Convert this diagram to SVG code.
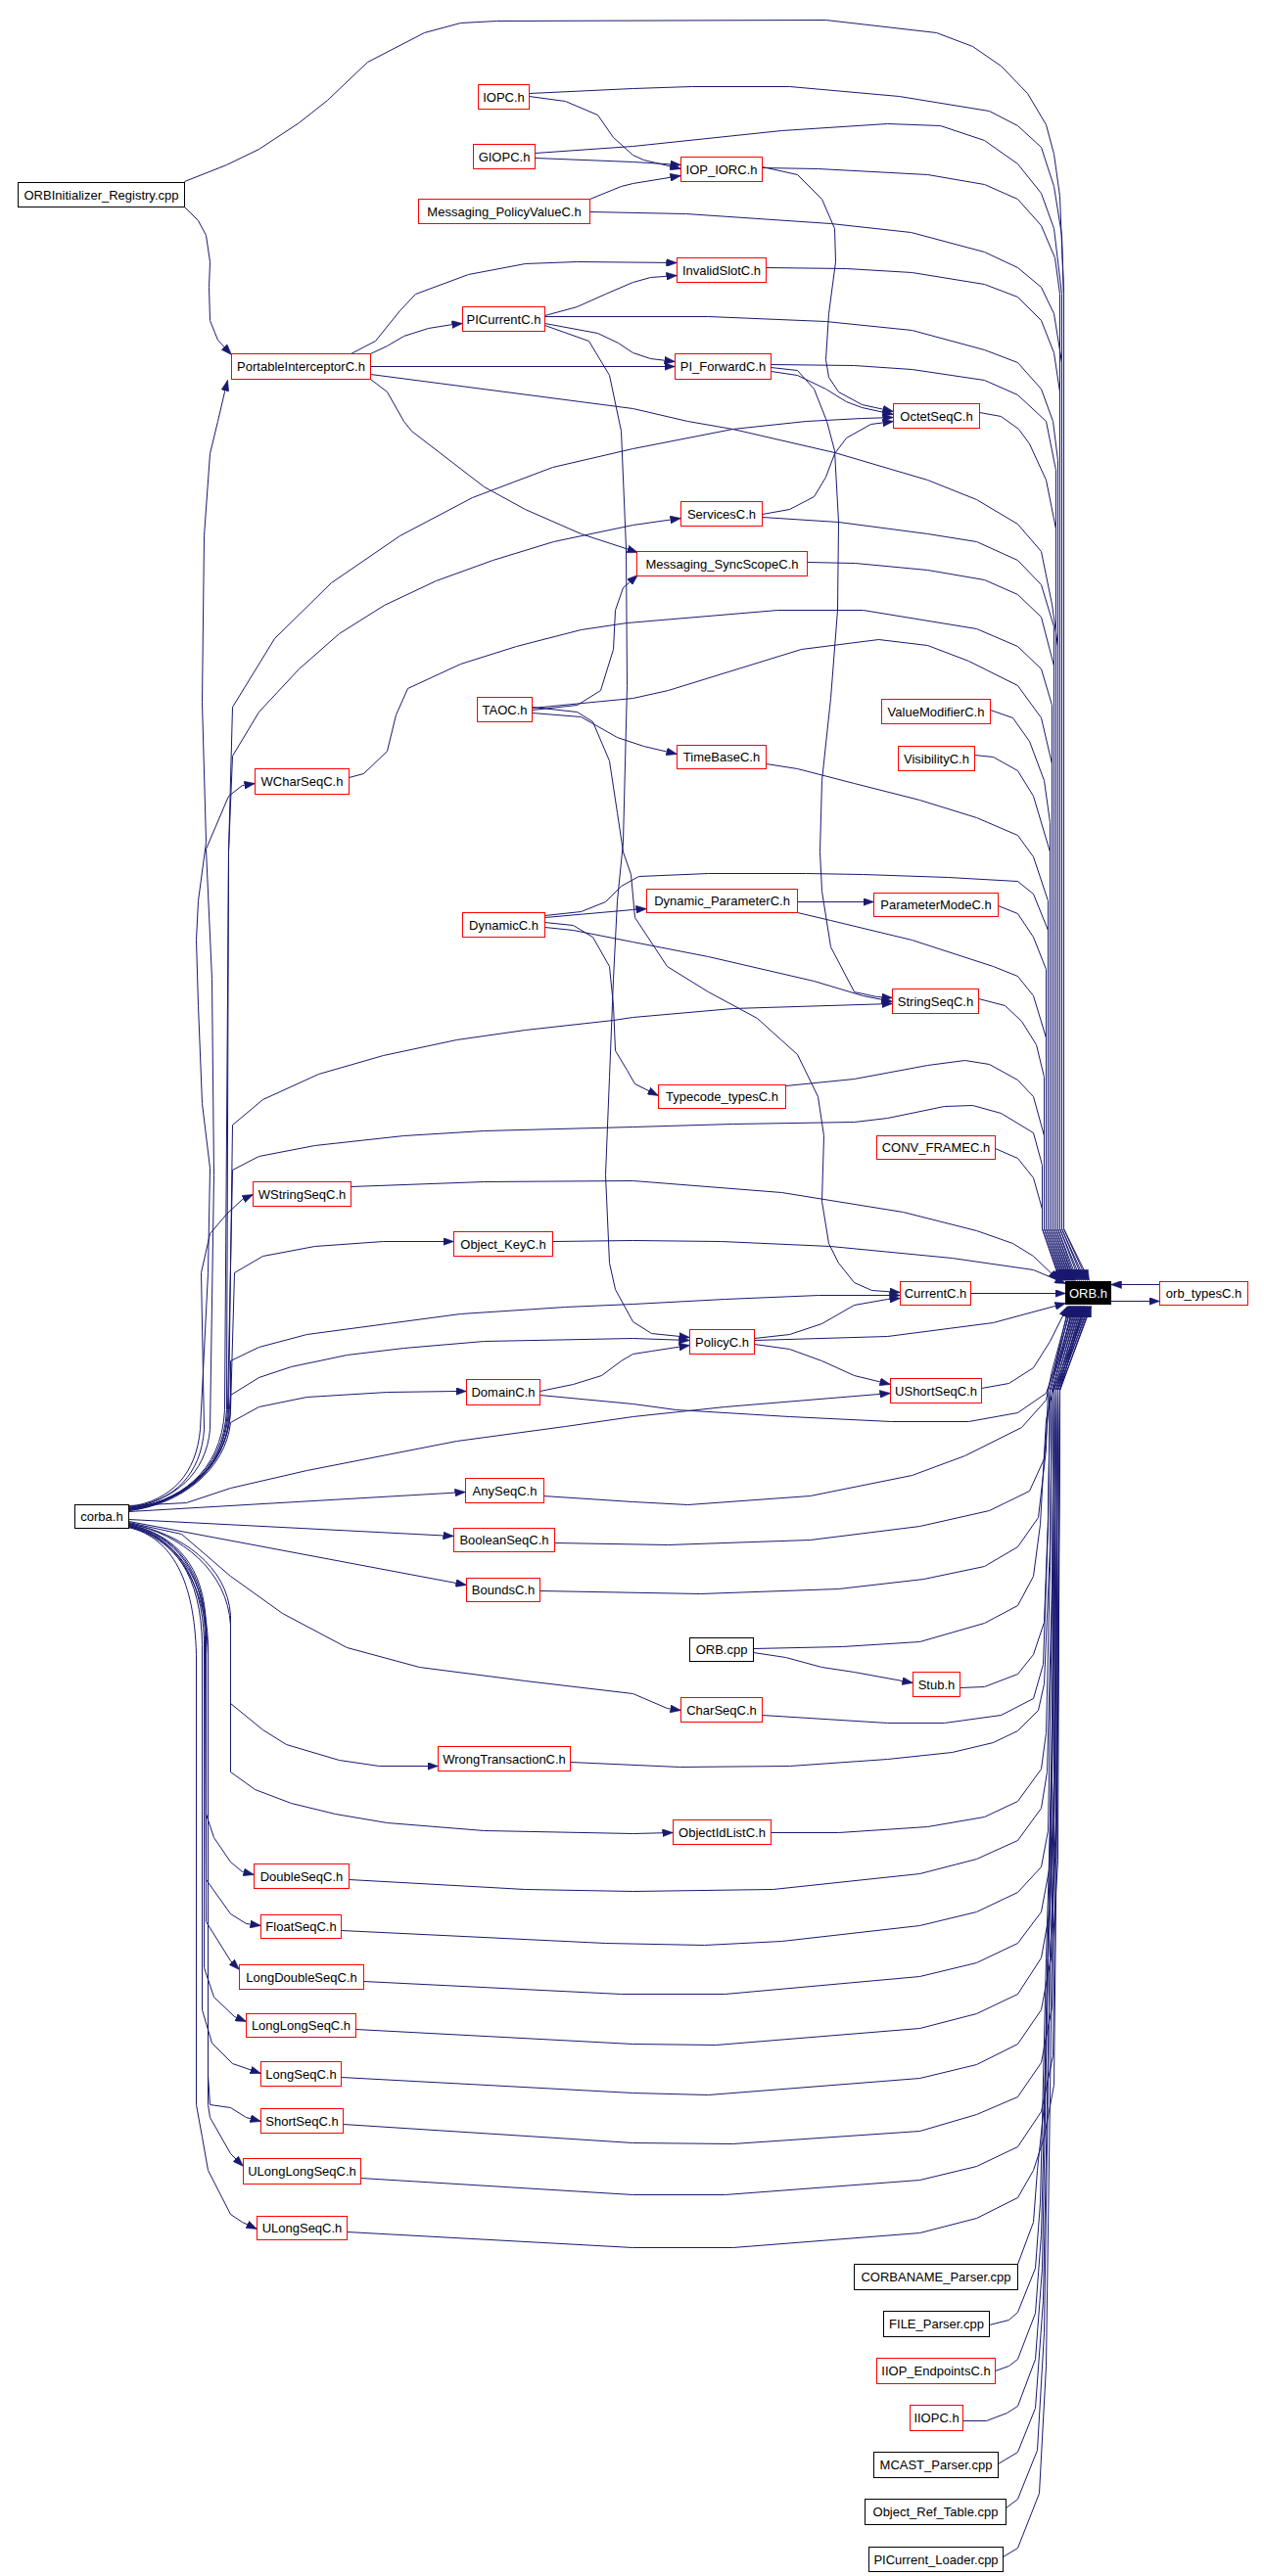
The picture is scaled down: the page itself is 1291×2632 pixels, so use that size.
<svg xmlns="http://www.w3.org/2000/svg" width="1291" height="2632" viewBox="0 0 1291 2632">
<style>
.e{fill:none;stroke:#191970;stroke-width:1;marker-end:url(#a)}
.r{fill:#fff;stroke:#ff0000;stroke-width:1}
.k{fill:#fff;stroke:#000;stroke-width:1}
.b{fill:#000;stroke:#000;stroke-width:1}
.t{font-family:"Liberation Sans",Arial,sans-serif;font-size:13px;text-anchor:middle;fill:#000}
.w{fill:#fff}
</style>
<defs>
<marker id="a" markerWidth="11" markerHeight="8" refX="11" refY="4" orient="auto" markerUnits="userSpaceOnUse"><path d="M0,0 L11,4 L0,8 z" fill="#191970" stroke="#191970" stroke-width="0.5"/></marker>
</defs>
<rect x="0" y="0" width="1291" height="2632" fill="#fff"/>
<g id="edges" transform="translate(0.5,0.5)">
<path class="e" d="M188,185 L231,168 L264,152 L305,125 L334,102 L375,63 L433,33 L470,23 L507,21 L843,20 L956,33 L993,47 L1022,67 L1049,95 L1068,127 L1076,157 L1082,200 L1086,300 L1086,1255 L1112,1308"/>
<path class="e" d="M540,95 L646,90 L706,88 L806,88 L918,98 L1010,113 L1039,128 L1063,150 L1076,190 L1084,240 L1086,300 L1086,1255 L1110,1308"/>
<path class="e" d="M546,156 L646,149 L798,133 L906,126 L960,128 L1005,143 L1039,167 L1063,197 L1076,233 L1084,300 L1084,1255 L1108,1308"/>
<path class="e" d="M602,216 L700,218 L848,228 L930,237 L1005,257 L1039,273 L1063,293 L1076,320 L1084,370 L1084,1255 L1106,1308"/>
<path class="e" d="M778,171 L835,172 L947,178 L1005,188 L1039,203 L1063,230 L1077,263 L1082,300 L1082,1255 L1104,1308"/>
<path class="e" d="M782,273 L864,274 L931,278 L1005,290 L1039,303 L1063,327 L1076,360 L1082,400 L1082,1255 L1102,1308"/>
<path class="e" d="M556,323 L723,323 L843,328 L931,337 L1005,357 L1039,370 L1063,397 L1075,430 L1080,470 L1080,1255 L1100,1308"/>
<path class="e" d="M378,382 L646,417 L702,430 L748,438 L852,462 L947,490 L997,510 L1039,535 L1063,563 L1074,617 L1080,660 L1080,1255 L1098,1308"/>
<path class="e" d="M787,372 L872,373 L931,377 L1005,388 L1039,403 L1068,430 L1078,480 L1078,1255 L1097,1308"/>
<path class="e" d="M1000,421 L1022,425 L1040,438 L1051,453 L1068,490 L1078,540 L1078,1255 L1096,1308"/>
<path class="e" d="M778,528 L856,533 L947,545 L997,553 L1039,572 L1063,597 L1076,640 L1076,1255 L1095,1308"/>
<path class="e" d="M824,574 L873,575 L947,582 L1005,592 L1039,607 L1063,630 L1076,680 L1076,1255 L1094,1308"/>
<path class="e" d="M356,794 L371,790 L395,767 L404,730 L416,703 L470,678 L527,660 L593,643 L640,636 L794,623 L881,623 L997,642 L1039,660 L1063,683 L1074,720 L1074,1255 L1093,1308"/>
<path class="e" d="M543,723 L646,713 L682,705 L818,663 L897,653 L947,659 L989,675 L1039,700 L1063,733 L1074,780 L1074,1255 L1092,1308"/>
<path class="e" d="M1011,725 L1034,733 L1051,757 L1066,797 L1072,840 L1072,1255 L1091,1308"/>
<path class="e" d="M995,771 L1014,773 L1039,787 L1055,813 L1072,870 L1072,1255 L1090,1308"/>
<path class="e" d="M782,780 L814,785 L872,800 L939,817 L997,835 L1039,853 L1055,875 L1070,920 L1070,1255 L1089,1308"/>
<path class="e" d="M556,935 L593,931 L618,921 L634,905 L652,895 L723,892 L823,892 L881,893 L968,896 L1039,900 L1055,913 L1070,950 L1070,1255 L1088,1308"/>
<path class="e" d="M1019,925 L1039,933 L1055,957 L1068,990 L1068,1255 L1087,1308"/>
<path class="e" d="M814,932 L848,940 L931,960 L1014,987 L1039,997 L1055,1017 L1068,1060 L1068,1255 L1086,1308"/>
<path class="e" d="M999,1020 L1026,1027 L1043,1043 L1058,1067 L1066,1100 L1066,1255 L1085,1308"/>
<path class="e" d="M802,1109 L872,1102 L947,1088 L985,1083 L1010,1087 L1039,1103 L1055,1120 L1066,1160 L1066,1255 L1084,1308"/>
<path class="e" d="M131,1541 C180,1535 228,1510 232,1440 L237,1195 L264,1181 L321,1170 L412,1160 L494,1155 L646,1151 L748,1148 L872,1146 L906,1142 L964,1130 L993,1129 L1022,1137 L1055,1157 L1064,1190 L1064,1255 L1083,1308"/>
<path class="e" d="M1016,1173 L1039,1183 L1055,1203 L1064,1235 L1064,1255 L1082,1308"/>
<path class="e" d="M358,1212 L494,1207 L646,1206 L798,1218 L922,1238 L997,1257 L1034,1270 L1055,1283 L1081,1308"/>
<path class="e" d="M564,1268 L646,1267 L736,1268 L848,1273 L972,1285 L1055,1297 L1088,1311"/>
<path class="e" d="M991,1321 L1088,1321"/>
<path class="e" d="M770,1369 L906,1365 L1014,1351 L1088,1331"/>
<path class="e" d="M1184,1312 L1134,1312"/>
<path class="e" d="M1134,1329 L1184,1329"/>
<path class="e" d="M1002,1418 L1030,1413 L1055,1397 L1072,1370 L1090,1334"/>
<path class="e" d="M551,1425 L646,1434 L690,1440 L806,1447 L910,1452 L989,1452 L1039,1443 L1068,1423 L1076,1400 L1091,1334"/>
<path class="e" d="M554,1528 L646,1534 L702,1537 L827,1528 L931,1507 L985,1487 L1043,1458 L1068,1430 L1074,1400 L1092,1334"/>
<path class="e" d="M566,1576 L682,1578 L827,1573 L939,1559 L1010,1543 L1051,1523 L1066,1490 L1072,1420 L1093,1334"/>
<path class="e" d="M551,1625 L715,1628 L856,1623 L943,1613 L1005,1600 L1039,1580 L1060,1550 L1068,1480 L1070,1420 L1094,1334"/>
<path class="e" d="M769,1684 L860,1682 L939,1677 L1005,1658 L1039,1640 L1055,1610 L1062,1557 L1068,1450 L1095,1334"/>
<path class="e" d="M980,1724 L1005,1723 L1039,1710 L1055,1690 L1066,1657 L1070,1550 L1072,1420 L1096,1334"/>
<path class="e" d="M778,1752 L906,1760 L964,1760 L1022,1752 L1055,1735 L1065,1700 L1070,1560 L1072,1420 L1097,1334"/>
<path class="e" d="M582,1800 L694,1805 L806,1804 L906,1797 L972,1790 L1014,1780 L1039,1768 L1060,1747 L1066,1720 L1072,1580 L1074,1420 L1098,1334"/>
<path class="e" d="M787,1872 L856,1872 L947,1866 L1005,1856 L1039,1840 L1063,1807 L1068,1770 L1072,1600 L1074,1420 L1099,1334"/>
<path class="e" d="M356,1920 L536,1930 L646,1932 L789,1930 L939,1914 L997,1899 L1039,1880 L1063,1847 L1069,1810 L1074,1620 L1076,1420 L1100,1334"/>
<path class="e" d="M348,1972 L618,1985 L719,1987 L798,1983 L939,1967 L997,1953 L1039,1933 L1063,1907 L1070,1870 L1074,1640 L1076,1420 L1101,1334"/>
<path class="e" d="M371,2024 L634,2037 L740,2037 L939,2019 L997,2005 L1039,1985 L1063,1953 L1071,1910 L1076,1660 L1078,1420 L1102,1334"/>
<path class="e" d="M363,2073 L646,2088 L731,2089 L939,2072 L997,2057 L1039,2037 L1063,2000 L1072,1950 L1076,1680 L1078,1420 L1103,1334"/>
<path class="e" d="M348,2122 L646,2138 L723,2140 L939,2123 L997,2109 L1039,2088 L1063,2053 L1073,2000 L1078,1700 L1080,1420 L1104,1334"/>
<path class="e" d="M350,2170 L646,2189 L748,2190 L939,2177 L997,2160 L1039,2142 L1063,2107 L1074,2050 L1078,1720 L1080,1420 L1105,1334"/>
<path class="e" d="M368,2225 L646,2242 L740,2242 L939,2227 L997,2213 L1039,2193 L1063,2157 L1075,2100 L1080,1740 L1082,1420 L1106,1334"/>
<path class="e" d="M354,2280 L646,2296 L748,2296 L939,2281 L997,2266 L1039,2245 L1055,2217 L1066,2183 L1076,2130 L1080,1760 L1082,1420 L1107,1334"/>
<path class="e" d="M1039,2313 L1055,2270 L1059,2217 L1066,2150 L1074,1800 L1076,1420 L1108,1334"/>
<path class="e" d="M1010,2375 L1030,2370 L1039,2362 L1057,2317 L1062,2250 L1068,2000 L1074,1800 L1078,1420 L1109,1334"/>
<path class="e" d="M1016,2422 L1030,2417 L1039,2410 L1057,2363 L1063,2283 L1070,2000 L1076,1820 L1078,1420 L1110,1334"/>
<path class="e" d="M983,2473 L1007,2473 L1028,2465 L1039,2458 L1057,2410 L1064,2317 L1070,2000 L1076,1840 L1080,1420 L1111,1334"/>
<path class="e" d="M1019,2517 L1039,2505 L1057,2460 L1065,2350 L1072,2000 L1078,1860 L1080,1420 L1112,1334"/>
<path class="e" d="M1027,2562 L1039,2553 L1059,2503 L1066,2383 L1072,2000 L1078,1880 L1082,1420 L1113,1334"/>
<path class="e" d="M1024,2612 L1039,2603 L1061,2547 L1068,2417 L1074,2000 L1080,1900 L1082,1420 L1114,1334"/>
<path class="e" d="M188,211 L202,225 L210,240 L214,267 L213,293 L214,327 L222,347 L236,362"/>
<path class="e" d="M540,98 L577,103 L610,117 L626,140 L646,158 L657,163 L695,172"/>
<path class="e" d="M546,161 L646,165 L695,168"/>
<path class="e" d="M602,203 L634,190 L646,187 L695,179"/>
<path class="e" d="M778,170 L814,178 L839,203 L852,233 L853,267 L846,320 L843,367 L846,385 L856,400 L880,413 L912,420"/>
<path class="e" d="M378,361 L395,353 L412,343 L437,335 L462,331 L472,330"/>
<path class="e" d="M358,361 L383,348 L408,317 L424,300 L478,280 L536,269 L589,267 L691,268"/>
<path class="e" d="M556,322 L589,313 L618,300 L646,288 L664,283 L691,281"/>
<path class="e" d="M378,374 L689,374"/>
<path class="e" d="M556,330 L610,340 L631,350 L646,360 L664,366 L689,369"/>
<path class="e" d="M787,379 L814,383 L843,397 L864,410 L880,416 L912,423"/>
<path class="e" d="M787,375 L814,378 L831,397 L844,430 L852,460 L856,533 L855,623 L848,713 L839,797 L837,870 L839,910 L848,967 L872,1013 L895,1018 L911,1019"/>
<path class="e" d="M378,387 L395,400 L412,430 L420,440 L494,497 L536,520 L593,545 L651,564"/>
<path class="e" d="M543,725 L589,720 L613,705 L626,663 L628,623 L636,600 L651,587"/>
<path class="e" d="M543,728 L593,732 L630,753 L657,762 L691,770"/>
<path class="e" d="M543,722 L589,727 L605,737 L622,777 L630,830 L636,870 L644,893 L648,937 L681,987 L723,1013 L773,1040 L814,1077 L835,1120 L841,1160 L839,1227 L846,1270 L856,1290 L872,1310 L890,1318 L919,1320"/>
<path class="e" d="M556,332 L601,348 L622,383 L634,440 L639,560 L640,700 L636,860 L630,920 L626,1000 L622,1100 L618,1200 L622,1290 L628,1317 L646,1350 L665,1362 L704,1366"/>
<path class="e" d="M556,937 L646,929 L660,928"/>
<path class="e" d="M556,947 L585,950 L646,962 L723,977 L831,1002 L881,1017 L911,1023"/>
<path class="e" d="M556,942 L585,945 L605,957 L622,987 L626,1027 L628,1073 L640,1093 L648,1107 L672,1119"/>
<path class="e" d="M814,921 L892,921"/>
<path class="e" d="M778,525 L806,520 L831,507 L843,487 L852,463 L864,447 L889,433 L912,430"/>
<path class="e" d="M551,1421 L585,1414 L614,1405 L634,1390 L646,1383 L665,1380 L704,1374"/>
<path class="e" d="M770,1367 L806,1363 L839,1352 L872,1333 L906,1327 L919,1326"/>
<path class="e" d="M770,1373 L806,1378 L839,1390 L872,1405 L909,1414"/>
<path class="e" d="M769,1688 L802,1693 L839,1703 L872,1708 L932,1719"/>
<path class="e" d="M131,1539 C175,1533 200,1505 204,1460 L212,1300 L214,1193 L206,1127 L202,1027 L200,960 L202,920 L210,860 L206,717 L208,547 L214,463 L222,430 L229,400 L232,388"/>
<path class="e" d="M131,1540 C178,1534 205,1505 208,1460 L205,1300 L214,1260 L231,1240 L247,1225 L258,1220"/>
<path class="e" d="M131,1540 C178,1533 210,1505 214,1460 L218,1200 L216,1000 L210,867 L233,813 L247,802 L260,800"/>
<path class="e" d="M131,1541 C180,1535 226,1505 229,1440 L233,870 L237,722 L280,652 L338,595 L408,547 L482,508 L564,477 L646,458 L748,438 L823,430 L880,427 L912,426"/>
<path class="e" d="M131,1541 C180,1535 228,1505 231,1440 L233,870 L237,772 L264,727 L305,683 L346,647 L392,618 L445,593 L503,572 L565,553 L646,536 L695,529"/>
<path class="e" d="M131,1541 C180,1535 230,1505 233,1440 L237,1149 L268,1123 L325,1097 L391,1078 L466,1062 L536,1052 L626,1042 L646,1039 L748,1030 L911,1025"/>
<path class="e" d="M131,1542 C180,1536 232,1505 235,1440 L239,1300 L268,1283 L321,1273 L391,1268 L453,1268 L463,1268"/>
<path class="e" d="M131,1542 C180,1536 233,1500 235,1440 L235,1390 L264,1376 L313,1363 L395,1352 L470,1342 L577,1335 L646,1332 L740,1327 L836,1323 L919,1323"/>
<path class="e" d="M131,1543 C180,1537 230,1500 233,1450 L235,1425 L264,1407 L297,1396 L354,1384 L412,1377 L494,1370 L646,1367 L704,1369"/>
<path class="e" d="M131,1543 C185,1537 230,1500 235,1453 L264,1437 L313,1427 L395,1422 L466,1421 L476,1421"/>
<path class="e" d="M131,1538 L190,1535 L235,1520 L313,1502 L466,1472 L577,1457 L646,1447 L740,1437 L909,1423"/>
<path class="e" d="M131,1544 L475,1524"/>
<path class="e" d="M131,1552 L463,1569"/>
<path class="e" d="M131,1554 L476,1619"/>
<path class="e" d="M131,1555 L185,1567 L235,1610 L288,1648 L354,1683 L428,1703 L536,1717 L646,1730 L681,1745 L695,1747"/>
<path class="e" d="M131,1556 C185,1566 232,1600 235,1650 L235,1740 L268,1767 L292,1782 L346,1798 L387,1804 L447,1804"/>
<path class="e" d="M131,1556 C185,1567 232,1605 235,1660 L235,1810 L260,1828 L297,1842 L342,1853 L395,1862 L494,1870 L646,1873 L687,1872"/>
<path class="e" d="M131,1557 C180,1568 208,1600 210,1660 L210,1853 L218,1877 L235,1902 L247,1912 L259,1915"/>
<path class="e" d="M131,1557 C180,1568 208,1605 210,1665 L210,1920 L235,1955 L251,1965 L266,1967"/>
<path class="e" d="M131,1558 C180,1569 207,1605 209,1670 L210,1963 L235,2003 L244,2012"/>
<path class="e" d="M131,1558 C178,1569 206,1610 208,1675 L208,2010 L218,2040 L239,2060 L251,2065"/>
<path class="e" d="M131,1559 C178,1570 205,1610 206,1680 L206,2053 L216,2087 L237,2108 L266,2118"/>
<path class="e" d="M131,1559 C178,1570 210,1610 212,1680 L212,2120 L214,2150 L235,2153 L251,2163 L266,2167"/>
<path class="e" d="M131,1560 C178,1571 210,1615 212,1690 L212,2150 L214,2163 L235,2200 L248,2213"/>
<path class="e" d="M131,1560 C176,1571 198,1615 200,1690 L200,2150 L206,2183 L212,2217 L235,2262 L247,2270 L262,2277"/>
</g>
<g id="n_ORBInitializer_Registry_cpp"><rect class="k" x="18.5" y="186.5" width="170" height="25"/><text class="t" x="103.5" y="203.5">ORBInitializer_Registry.cpp</text></g>
<g id="n_IOPC_h"><rect class="r" x="488.5" y="86.5" width="52" height="25"/><text class="t" x="514.5" y="103.5">IOPC.h</text></g>
<g id="n_GIOPC_h"><rect class="r" x="483.5" y="147.5" width="63" height="25"/><text class="t" x="515" y="164.5">GIOPC.h</text></g>
<g id="n_Messaging_PolicyValueC_h"><rect class="r" x="427.5" y="203.5" width="175" height="25"/><text class="t" x="515" y="220.5">Messaging_PolicyValueC.h</text></g>
<g id="n_PICurrentC_h"><rect class="r" x="472.5" y="313.5" width="84" height="25"/><text class="t" x="514.5" y="330.5">PICurrentC.h</text></g>
<g id="n_PortableInterceptorC_h"><rect class="r" x="236.5" y="361.5" width="142" height="26"/><text class="t" x="307.5" y="379">PortableInterceptorC.h</text></g>
<g id="n_IOP_IORC_h"><rect class="r" x="695.5" y="160.5" width="83" height="25"/><text class="t" x="737" y="177.5">IOP_IORC.h</text></g>
<g id="n_InvalidSlotC_h"><rect class="r" x="691.5" y="263.5" width="91" height="25"/><text class="t" x="737" y="280.5">InvalidSlotC.h</text></g>
<g id="n_PI_ForwardC_h"><rect class="r" x="689.5" y="361.5" width="98" height="26"/><text class="t" x="738.5" y="379">PI_ForwardC.h</text></g>
<g id="n_OctetSeqC_h"><rect class="r" x="912.5" y="412.5" width="88" height="25"/><text class="t" x="956.5" y="429.5">OctetSeqC.h</text></g>
<g id="n_ServicesC_h"><rect class="r" x="695.5" y="512.5" width="83" height="25"/><text class="t" x="737" y="529.5">ServicesC.h</text></g>
<g id="n_Messaging_SyncScopeC_h"><rect class="r" x="650.5" y="563.5" width="174" height="25"/><text class="t" x="737.5" y="580.5">Messaging_SyncScopeC.h</text></g>
<g id="n_TAOC_h"><rect class="r" x="487.5" y="712.5" width="56" height="25"/><text class="t" x="515.5" y="729.5">TAOC.h</text></g>
<g id="n_ValueModifierC_h"><rect class="r" x="900.5" y="714.5" width="111" height="25"/><text class="t" x="956" y="731.5">ValueModifierC.h</text></g>
<g id="n_TimeBaseC_h"><rect class="r" x="691.5" y="761.5" width="91" height="24"/><text class="t" x="737" y="778">TimeBaseC.h</text></g>
<g id="n_VisibilityC_h"><rect class="r" x="917.5" y="762.5" width="78" height="25"/><text class="t" x="956.5" y="779.5">VisibilityC.h</text></g>
<g id="n_WCharSeqC_h"><rect class="r" x="260.5" y="785.5" width="96" height="26"/><text class="t" x="308.5" y="803">WCharSeqC.h</text></g>
<g id="n_Dynamic_ParameterC_h"><rect class="r" x="660.5" y="908.5" width="154" height="24"/><text class="t" x="737.5" y="925">Dynamic_ParameterC.h</text></g>
<g id="n_ParameterModeC_h"><rect class="r" x="892.5" y="912.5" width="127" height="24"/><text class="t" x="956" y="929">ParameterModeC.h</text></g>
<g id="n_DynamicC_h"><rect class="r" x="472.5" y="932.5" width="84" height="25"/><text class="t" x="514.5" y="949.5">DynamicC.h</text></g>
<g id="n_StringSeqC_h"><rect class="r" x="911.5" y="1010.5" width="88" height="25"/><text class="t" x="955.5" y="1027.5">StringSeqC.h</text></g>
<g id="n_Typecode_typesC_h"><rect class="r" x="672.5" y="1108.5" width="130" height="24"/><text class="t" x="737.5" y="1125">Typecode_typesC.h</text></g>
<g id="n_CONV_FRAMEC_h"><rect class="r" x="895.5" y="1160.5" width="121" height="24"/><text class="t" x="956" y="1177">CONV_FRAMEC.h</text></g>
<g id="n_WStringSeqC_h"><rect class="r" x="258.5" y="1207.5" width="100" height="25"/><text class="t" x="308.5" y="1224.5">WStringSeqC.h</text></g>
<g id="n_Object_KeyC_h"><rect class="r" x="463.5" y="1258.5" width="101" height="25"/><text class="t" x="514" y="1275.5">Object_KeyC.h</text></g>
<g id="n_CurrentC_h"><rect class="r" x="919.5" y="1309.5" width="72" height="24"/><text class="t" x="955.5" y="1326">CurrentC.h</text></g>
<g id="n_ORB_h"><rect class="b" x="1088.5" y="1309.5" width="46" height="23"/><text class="t w" x="1111.5" y="1325.5">ORB.h</text></g>
<g id="n_orb_typesC_h"><rect class="r" x="1184.5" y="1309.5" width="90" height="24"/><text class="t" x="1229.5" y="1326">orb_typesC.h</text></g>
<g id="n_PolicyC_h"><rect class="r" x="704.5" y="1358.5" width="66" height="25"/><text class="t" x="737.5" y="1375.5">PolicyC.h</text></g>
<g id="n_DomainC_h"><rect class="r" x="476.5" y="1409.5" width="75" height="26"/><text class="t" x="514" y="1427">DomainC.h</text></g>
<g id="n_UShortSeqC_h"><rect class="r" x="909.5" y="1408.5" width="93" height="25"/><text class="t" x="956" y="1425.5">UShortSeqC.h</text></g>
<g id="n_AnySeqC_h"><rect class="r" x="475.5" y="1510.5" width="80" height="25"/><text class="t" x="515.5" y="1527.5">AnySeqC.h</text></g>
<g id="n_corba_h"><rect class="k" x="76.5" y="1537.5" width="55" height="24"/><text class="t" x="104" y="1554">corba.h</text></g>
<g id="n_BooleanSeqC_h"><rect class="r" x="463.5" y="1561.5" width="103" height="24"/><text class="t" x="515" y="1578">BooleanSeqC.h</text></g>
<g id="n_BoundsC_h"><rect class="r" x="476.5" y="1612.5" width="75" height="24"/><text class="t" x="514" y="1629">BoundsC.h</text></g>
<g id="n_ORB_cpp"><rect class="k" x="704.5" y="1673.5" width="65" height="24"/><text class="t" x="737" y="1690">ORB.cpp</text></g>
<g id="n_Stub_h"><rect class="r" x="932.5" y="1708.5" width="48" height="25"/><text class="t" x="956.5" y="1725.5">Stub.h</text></g>
<g id="n_CharSeqC_h"><rect class="r" x="695.5" y="1734.5" width="83" height="25"/><text class="t" x="737" y="1751.5">CharSeqC.h</text></g>
<g id="n_WrongTransactionC_h"><rect class="r" x="447.5" y="1784.5" width="135" height="25"/><text class="t" x="515" y="1801.5">WrongTransactionC.h</text></g>
<g id="n_ObjectIdListC_h"><rect class="r" x="687.5" y="1859.5" width="100" height="25"/><text class="t" x="737.5" y="1876.5">ObjectIdListC.h</text></g>
<g id="n_DoubleSeqC_h"><rect class="r" x="259.5" y="1904.5" width="97" height="25"/><text class="t" x="308" y="1921.5">DoubleSeqC.h</text></g>
<g id="n_FloatSeqC_h"><rect class="r" x="266.5" y="1956.5" width="82" height="24"/><text class="t" x="307.5" y="1973">FloatSeqC.h</text></g>
<g id="n_LongDoubleSeqC_h"><rect class="r" x="244.5" y="2007.5" width="127" height="25"/><text class="t" x="308" y="2024.5">LongDoubleSeqC.h</text></g>
<g id="n_LongLongSeqC_h"><rect class="r" x="251.5" y="2057.5" width="112" height="24"/><text class="t" x="307.5" y="2074">LongLongSeqC.h</text></g>
<g id="n_LongSeqC_h"><rect class="r" x="266.5" y="2106.5" width="82" height="25"/><text class="t" x="307.5" y="2123.5">LongSeqC.h</text></g>
<g id="n_ShortSeqC_h"><rect class="r" x="266.5" y="2154.5" width="84" height="25"/><text class="t" x="308.5" y="2171.5">ShortSeqC.h</text></g>
<g id="n_ULongLongSeqC_h"><rect class="r" x="248.5" y="2205.5" width="120" height="26"/><text class="t" x="308.5" y="2223">ULongLongSeqC.h</text></g>
<g id="n_ULongSeqC_h"><rect class="r" x="262.5" y="2264.5" width="92" height="24"/><text class="t" x="308.5" y="2281">ULongSeqC.h</text></g>
<g id="n_CORBANAME_Parser_cpp"><rect class="k" x="872.5" y="2313.5" width="167" height="26"/><text class="t" x="956" y="2331">CORBANAME_Parser.cpp</text></g>
<g id="n_FILE_Parser_cpp"><rect class="k" x="902.5" y="2361.5" width="108" height="26"/><text class="t" x="956.5" y="2379">FILE_Parser.cpp</text></g>
<g id="n_IIOP_EndpointsC_h"><rect class="r" x="895.5" y="2409.5" width="121" height="26"/><text class="t" x="956" y="2427">IIOP_EndpointsC.h</text></g>
<g id="n_IIOPC_h"><rect class="r" x="929.5" y="2457.5" width="54" height="26"/><text class="t" x="956.5" y="2475">IIOPC.h</text></g>
<g id="n_MCAST_Parser_cpp"><rect class="k" x="892.5" y="2505.5" width="127" height="26"/><text class="t" x="956" y="2523">MCAST_Parser.cpp</text></g>
<g id="n_Object_Ref_Table_cpp"><rect class="k" x="883.5" y="2553.5" width="144" height="26"/><text class="t" x="955.5" y="2571">Object_Ref_Table.cpp</text></g>
<g id="n_PICurrent_Loader_cpp"><rect class="k" x="887.5" y="2602.5" width="137" height="25"/><text class="t" x="956" y="2619.5">PICurrent_Loader.cpp</text></g>
</svg>
